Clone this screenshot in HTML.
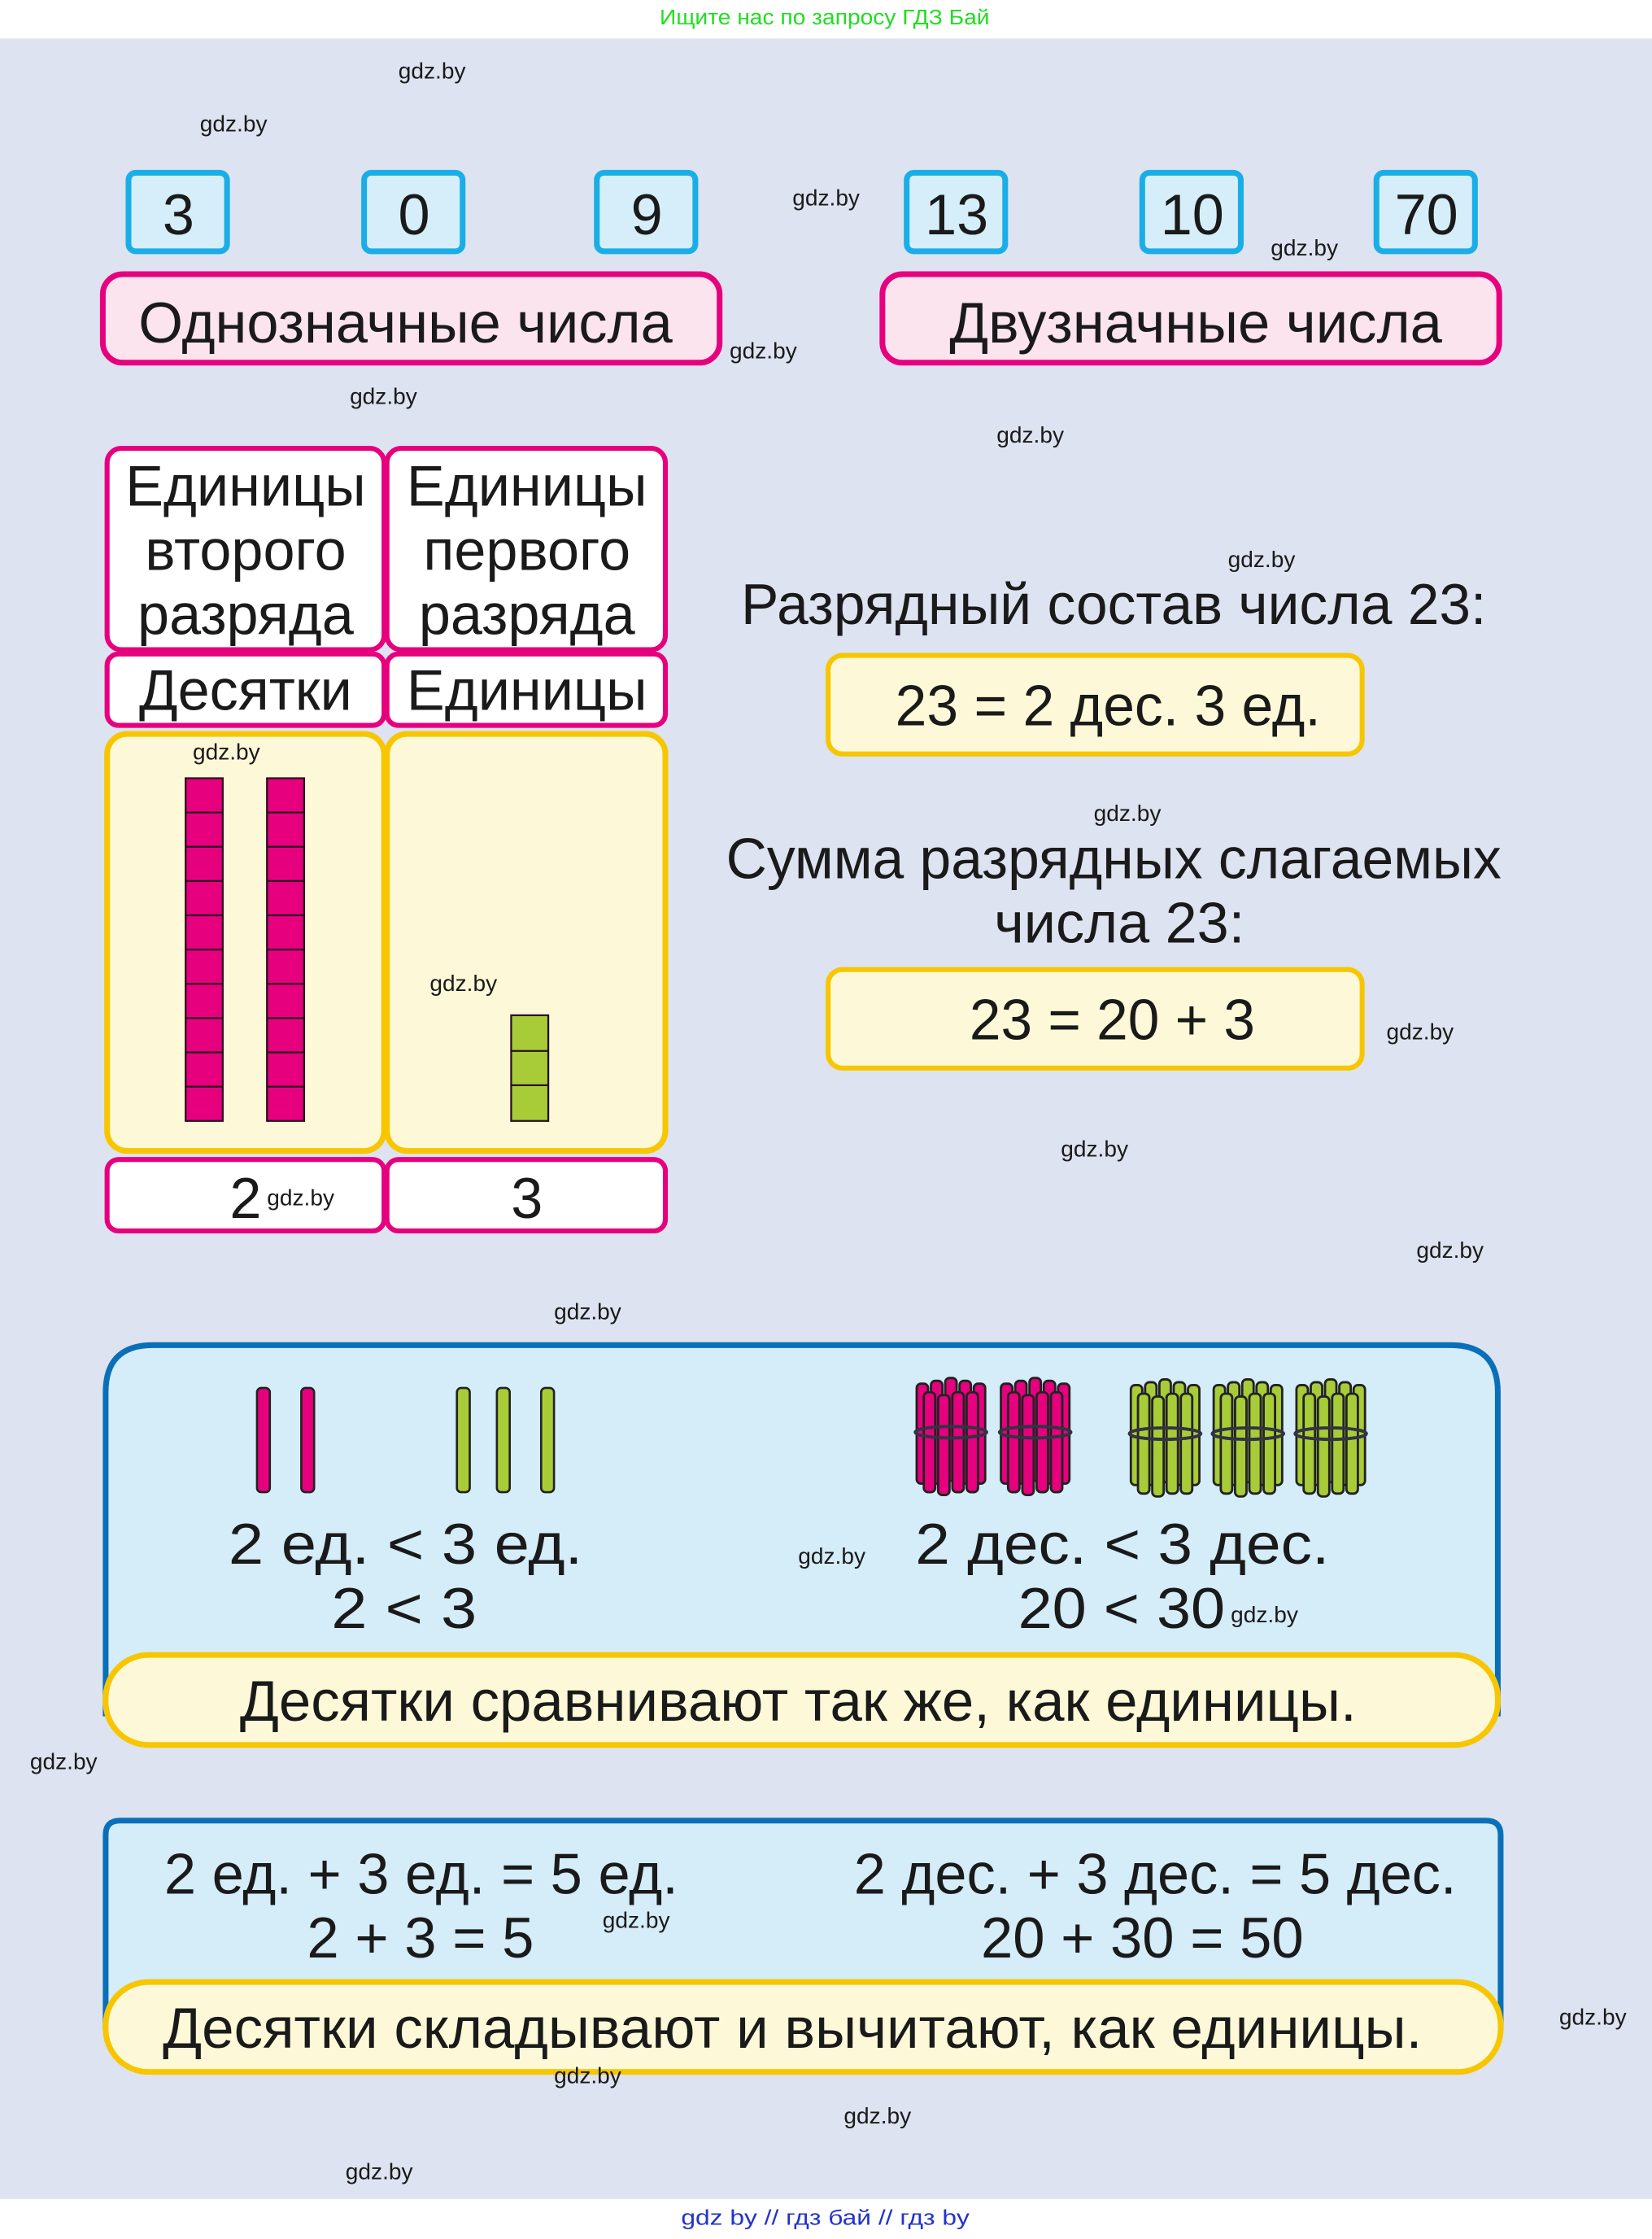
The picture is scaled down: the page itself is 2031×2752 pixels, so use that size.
<!DOCTYPE html>
<html><head><meta charset="utf-8"><style>
html,body{margin:0;padding:0;background:#fff}
svg{display:block}
text{font-family:"Liberation Sans","DejaVu Sans",sans-serif;fill:#1a1a1a}
.g{font-size:16px}
.b{font-size:40px}
</style></head><body>
<svg width="2031" height="2752" viewBox="0 0 1157 1568" preserveAspectRatio="none" xmlns="http://www.w3.org/2000/svg">
<defs>
<g id="bp">
 <g stroke="#222" stroke-width="1.6" fill="#e6007e">
  <rect x="2" y="4" width="8" height="70" rx="3"/><rect x="12" y="2" width="8" height="72" rx="3"/><rect x="22" y="0" width="8" height="72" rx="3"/><rect x="32" y="2" width="8" height="72" rx="3"/><rect x="42" y="4" width="8" height="70" rx="3"/>
  <rect x="7" y="10" width="8" height="70" rx="3"/><rect x="17" y="12" width="8" height="70" rx="3"/><rect x="27" y="10" width="8" height="70" rx="3"/><rect x="37" y="10" width="8" height="70" rx="3"/>
 </g>
 <ellipse cx="26" cy="38" rx="25" ry="4" fill="none" stroke="#334" stroke-width="2.2"/>
</g>
<g id="bg">
 <g stroke="#222" stroke-width="1.6" fill="#a8cc38">
  <rect x="2" y="4" width="8" height="70" rx="3"/><rect x="12" y="2" width="8" height="72" rx="3"/><rect x="22" y="0" width="8" height="72" rx="3"/><rect x="32" y="2" width="8" height="72" rx="3"/><rect x="42" y="4" width="8" height="70" rx="3"/>
  <rect x="7" y="10" width="8" height="70" rx="3"/><rect x="17" y="12" width="8" height="70" rx="3"/><rect x="27" y="10" width="8" height="70" rx="3"/><rect x="37" y="10" width="8" height="70" rx="3"/>
 </g>
 <ellipse cx="26" cy="38" rx="25" ry="4" fill="none" stroke="#334" stroke-width="2.2"/>
</g>
</defs>
<rect x="0" y="0" width="1157" height="1568" fill="#fff"/>
<rect x="0" y="27" width="1157" height="1513" fill="#dde3f0"/>
<text x="462" y="17" textLength="231" lengthAdjust="spacingAndGlyphs" style="font-size:15px;fill:#22dd22">Ищите нас по запросу ГДЗ Бай</text>
<text x="477" y="1558" textLength="202" lengthAdjust="spacingAndGlyphs" style="font-size:15px;fill:#2233cc">gdz by  //  гдз бай  //  гдз by</text>

<!-- digit boxes -->
<g fill="#d6eefa" stroke="#1aaee6" stroke-width="4">
<rect x="90" y="121" width="69" height="55" rx="5"/><rect x="255" y="121" width="69" height="55" rx="5"/><rect x="418" y="121" width="69" height="55" rx="5"/>
<rect x="635" y="121" width="69" height="55" rx="5"/><rect x="800" y="121" width="69" height="55" rx="5"/><rect x="964" y="121" width="69" height="55" rx="5"/>
</g>
<g class="b" text-anchor="middle">
<text x="125" y="164">3</text><text x="290" y="164">0</text><text x="453" y="164">9</text>
<text x="670" y="164">13</text><text x="835" y="164">10</text><text x="999" y="164">70</text>
</g>
<g fill="#fce4ee" stroke="#e6007e" stroke-width="4">
<rect x="72" y="192" width="432" height="62" rx="14"/>
<rect x="618" y="192" width="432" height="62" rx="14"/>
</g>
<text x="97" y="240" class="b" textLength="374" lengthAdjust="spacingAndGlyphs">Однозначные числа</text>
<text x="665" y="240" class="b" textLength="345" lengthAdjust="spacingAndGlyphs">Двузначные числа</text>

<!-- table -->
<g fill="#fff" stroke="#e6007e" stroke-width="3.5">
<rect x="75" y="314" width="194" height="141" rx="10"/><rect x="271" y="314" width="195" height="141" rx="10"/>
<rect x="75" y="458" width="194" height="50" rx="8"/><rect x="271" y="458" width="195" height="50" rx="8"/>
<rect x="75" y="812" width="194" height="50" rx="8"/><rect x="271" y="812" width="195" height="50" rx="8"/>
</g>
<g fill="#fdf9d8" stroke="#f7c600" stroke-width="4">
<rect x="75" y="514" width="194" height="292" rx="14"/><rect x="271" y="514" width="195" height="292" rx="14"/>
</g>
<g class="b" text-anchor="middle">
<text x="172" y="354">Единицы</text><text x="172" y="399">второго</text><text x="172" y="444">разряда</text>
<text x="369" y="354">Единицы</text><text x="369" y="399">первого</text><text x="369" y="444">разряда</text>
<text x="172" y="497">Десятки</text><text x="369" y="497">Единицы</text>
<text x="172" y="853">2</text><text x="369" y="853">3</text>
</g>
<g stroke="#2a1020" stroke-width="1.3">
<g fill="#e6007e">
<rect x="130" y="545" width="26" height="240"/><rect x="187" y="545" width="26" height="240"/>
</g>
<path d="M130 569h26M130 593h26M130 617h26M130 641h26M130 665h26M130 689h26M130 713h26M130 737h26M130 761h26M187 569h26M187 593h26M187 617h26M187 641h26M187 665h26M187 689h26M187 713h26M187 737h26M187 761h26" fill="none"/>
<rect x="358" y="711" width="26" height="74" fill="#a8cc38"/>
<path d="M358 736h26M358 760h26" fill="none"/>
</g>

<!-- right side -->
<text x="780" y="437" text-anchor="middle" class="b" textLength="522" lengthAdjust="spacingAndGlyphs">Разрядный состав числа 23:</text>
<rect x="580" y="459" width="374" height="69" rx="10" fill="#fdf9d8" stroke="#f7c600" stroke-width="3.5"/>
<text x="627" y="508" class="b" textLength="298" lengthAdjust="spacingAndGlyphs">23 = 2 дес. 3 ед.</text>
<text x="780" y="615" text-anchor="middle" class="b" textLength="543" lengthAdjust="spacingAndGlyphs">Сумма разрядных слагаемых</text>
<text x="784" y="660" text-anchor="middle" class="b">числа 23:</text>
<rect x="580" y="679" width="374" height="69" rx="10" fill="#fdf9d8" stroke="#f7c600" stroke-width="3.5"/>
<text x="679" y="728" class="b" textLength="200" lengthAdjust="spacingAndGlyphs">23 = 20 + 3</text>

<!-- section 1 -->
<path d="M74 1200 V975 Q74 942 107 942 H1016 Q1049 942 1049 975 V1200 Z" fill="#d5ecf9" stroke="#0a6fb8" stroke-width="4"/>
<g stroke="#222" stroke-width="1.5">
<rect x="180" y="972" width="9" height="73" rx="3" fill="#e6007e"/><rect x="211" y="972" width="9" height="73" rx="3" fill="#e6007e"/>
<rect x="320" y="972" width="9" height="73" rx="3" fill="#a8cc38"/><rect x="348" y="972" width="9" height="73" rx="3" fill="#a8cc38"/><rect x="379" y="972" width="9" height="73" rx="3" fill="#a8cc38"/>
</g>
<use href="#bp" x="640" y="965"/><use href="#bp" x="699" y="965"/>
<use href="#bg" x="790" y="966"/><use href="#bg" x="848" y="966"/><use href="#bg" x="906" y="966"/>
<text x="160" y="1095" class="b" textLength="248" lengthAdjust="spacingAndGlyphs">2 ед. &lt;  3 ед.</text>
<text x="232" y="1140" class="b" textLength="102" lengthAdjust="spacingAndGlyphs">2 &lt; 3</text>
<text x="641" y="1095" class="b" textLength="290" lengthAdjust="spacingAndGlyphs">2 дес. &lt; 3 дес.</text>
<text x="713" y="1140" class="b" textLength="145" lengthAdjust="spacingAndGlyphs">20 &lt; 30</text>
<rect x="74" y="1159" width="975" height="63" rx="30" fill="#fdf9d8" stroke="#f7c600" stroke-width="4"/>
<text x="168" y="1205" class="b" textLength="782" lengthAdjust="spacingAndGlyphs">Десятки сравнивают так же, как единицы.</text>

<!-- section 2 -->
<path d="M74 1420 V1285 Q74 1275 84 1275 H1041 Q1051 1275 1051 1285 V1420 Z" fill="#d5ecf9" stroke="#0a6fb8" stroke-width="4"/>
<text x="115" y="1326" class="b" textLength="360" lengthAdjust="spacingAndGlyphs">2 ед. + 3 ед. = 5 ед.</text>
<text x="215" y="1371" class="b" textLength="159" lengthAdjust="spacingAndGlyphs">2 + 3 = 5</text>
<text x="598" y="1326" class="b" textLength="422" lengthAdjust="spacingAndGlyphs">2 дес. + 3 дес. = 5 дес.</text>
<text x="687" y="1371" class="b" textLength="226" lengthAdjust="spacingAndGlyphs">20 + 30 = 50</text>
<rect x="74" y="1388" width="977" height="63" rx="30" fill="#fdf9d8" stroke="#f7c600" stroke-width="4"/>
<text x="114" y="1434" class="b" textLength="882" lengthAdjust="spacingAndGlyphs">Десятки складывают и вычитают, как единицы.</text>

<!-- watermarks -->
<g class="g">
<text x="279" y="55">gdz.by</text><text x="140" y="92">gdz.by</text><text x="555" y="144">gdz.by</text>
<text x="890" y="179">gdz.by</text><text x="511" y="251">gdz.by</text><text x="245" y="283">gdz.by</text>
<text x="698" y="310">gdz.by</text><text x="860" y="397">gdz.by</text><text x="135" y="532">gdz.by</text>
<text x="766" y="575">gdz.by</text><text x="301" y="694">gdz.by</text><text x="971" y="728">gdz.by</text>
<text x="743" y="810">gdz.by</text><text x="187" y="844">gdz.by</text><text x="992" y="881">gdz.by</text>
<text x="388" y="924">gdz.by</text><text x="559" y="1095">gdz.by</text><text x="862" y="1136">gdz.by</text>
<text x="21" y="1239">gdz.by</text><text x="422" y="1350">gdz.by</text><text x="1092" y="1418">gdz.by</text>
<text x="388" y="1459">gdz.by</text><text x="591" y="1487">gdz.by</text><text x="242" y="1526">gdz.by</text>
</g>
</svg>
</body></html>
